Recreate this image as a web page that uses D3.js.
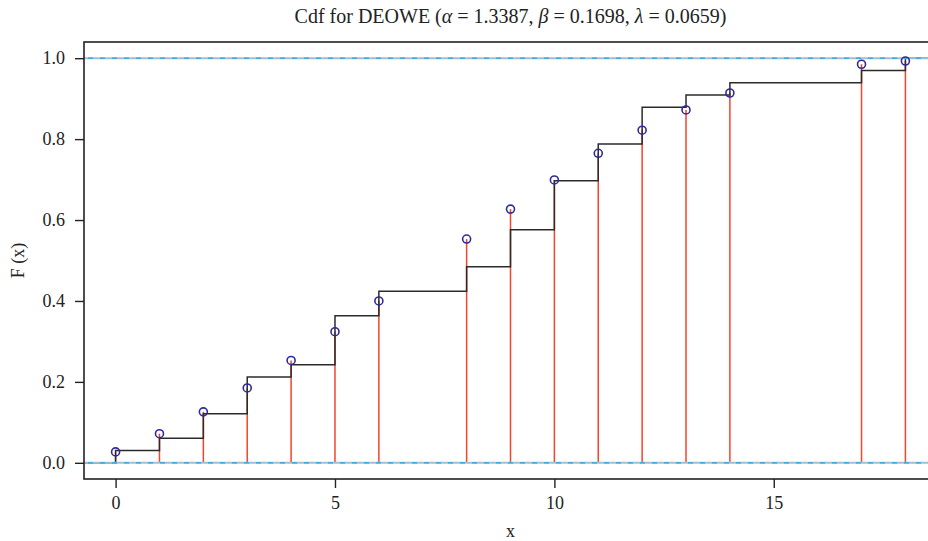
<!DOCTYPE html>
<html>
<head>
<meta charset="utf-8">
<script src="https://cdn.jsdelivr.net/npm/d3@7"></script>
<style>
  body { margin: 0; background: #fff; }
  svg { display: block; font-family: "Liberation Serif", "DejaVu Serif", serif; }
</style>
</head>
<body>
<script>
const width = 928;
const height = 541;
const margin = { top: 42, right: -9, bottom: 62, left: 84 };

// observed values of x
const xs = [0, 1, 2, 3, 4, 5, 6, 8, 9, 10, 11, 12, 13, 14, 17, 18];
// empirical cdf (step)
const ecdf = [0.0303, 0.0606, 0.1212, 0.2121, 0.2424, 0.3636, 0.4242, 0.4848,
  0.5758, 0.6970, 0.7879, 0.8788, 0.9091, 0.9394, 0.9697, 1.0];
// fitted DEOWE cdf (circles)
const fitted = [0.027, 0.072, 0.126, 0.185, 0.253, 0.324, 0.400, 0.553,
  0.627, 0.699, 0.765, 0.822, 0.872, 0.914, 0.985, 0.993];
const xTicks = [0, 5, 10, 15];
const yTicks = [0, 0.2, 0.4, 0.6, 0.8, 1.0];

const svg = d3.select("body").append("svg")
  .attr("width", width)
  .attr("height", height);

const x = d3.scaleLinear()
  .domain([-0.72, 18.72])
  .range([margin.left, width - margin.right]);
const y = d3.scaleLinear()
  .domain([-0.04, 1.04])
  .range([height - margin.bottom, margin.top]);

const [x0, x1] = x.domain();

// red spikes up to the fitted cdf
svg.append("g")
  .selectAll("line")
  .data(xs)
  .join("line")
  .attr("x1", d => x(d))
  .attr("x2", d => x(d))
  .attr("y1", y(0))
  .attr("y2", (d, i) => y(fitted[i]))
  .attr("stroke", "#f2452a")
  .attr("stroke-width", 1.5);

// empirical step function
const stepPts = [[x0, 0]].concat(xs.map((d, i) => [d, ecdf[i]]), [[x1, 1]]);
svg.append("path")
  .datum(stepPts)
  .attr("fill", "none")
  .attr("stroke", "#2b2b2b")
  .attr("stroke-width", 1.5)
  .attr("d", d3.line()
    .x(d => x(d[0]))
    .y(d => y(d[1]))
    .curve(d3.curveStepAfter));

// reference lines at 0 and 1
const refs = svg.append("g");
[0, 1].forEach(v => {
  refs.append("line")
    .attr("x1", x(x0)).attr("x2", x(x1))
    .attr("y1", y(v)).attr("y2", y(v))
    .attr("stroke", "#a9bccb")
    .attr("stroke-width", 2);
  refs.append("line")
    .attr("x1", x(x0) + 4).attr("x2", x(x1))
    .attr("y1", y(v)).attr("y2", y(v))
    .attr("stroke", "#1fa6ea")
    .attr("stroke-width", 1.2)
    .attr("stroke-dasharray", "5,7");
});

// fitted points
svg.append("g")
  .selectAll("circle")
  .data(xs)
  .join("circle")
  .attr("cx", d => x(d))
  .attr("cy", (d, i) => y(fitted[i]))
  .attr("r", 4)
  .attr("fill", "none")
  .attr("stroke", "#2d2a9c")
  .attr("stroke-width", 1.6);

// frame
svg.append("rect")
  .attr("x", x(x0))
  .attr("y", y(y.domain()[1]))
  .attr("width", x(x1) - x(x0))
  .attr("height", y(y.domain()[0]) - y(y.domain()[1]))
  .attr("fill", "none")
  .attr("stroke", "#222")
  .attr("stroke-width", 1.6);

// axes
const xAxis = svg.append("g")
  .attr("transform", `translate(0,${height - margin.bottom})`)
  .call(d3.axisBottom(x).tickValues(xTicks).tickSize(9).tickPadding(8));
const yAxis = svg.append("g")
  .attr("transform", `translate(${margin.left},0)`)
  .call(d3.axisLeft(y).tickValues(yTicks).tickFormat(d3.format(".1f")).tickSize(9).tickPadding(10));

[xAxis, yAxis].forEach(a => {
  a.select(".domain").remove();
  a.selectAll(".tick line").attr("stroke", "#222").attr("stroke-width", 1.4);
  a.selectAll(".tick text")
    .attr("fill", "#222")
    .style("font-family", "'Liberation Serif', serif")
    .style("font-size", "18px");
});

// labels
svg.append("text")
  .attr("x", (x(x0) + x(x1)) / 2)
  .attr("y", 537)
  .attr("text-anchor", "middle")
  .attr("fill", "#222")
  .style("font-size", "18px")
  .text("x");

svg.append("text")
  .attr("transform", `translate(24,${(y(0) + y(1)) / 2}) rotate(-90)`)
  .attr("text-anchor", "middle")
  .attr("fill", "#222")
  .style("font-size", "18px")
  .text("F (x)");

const title = svg.append("text")
  .attr("x", (x(x0) + x(x1)) / 2)
  .attr("y", 23)
  .attr("text-anchor", "middle")
  .attr("fill", "#222")
  .style("font-size", "20px");
title.append("tspan").text("Cdf for DEOWE (");
title.append("tspan").style("font-style", "italic").text("α");
title.append("tspan").text(" = 1.3387, ");
title.append("tspan").style("font-style", "italic").text("β");
title.append("tspan").text(" = 0.1698, ");
title.append("tspan").style("font-style", "italic").text("λ");
title.append("tspan").text(" = 0.0659)");
</script>
</body>
</html>
